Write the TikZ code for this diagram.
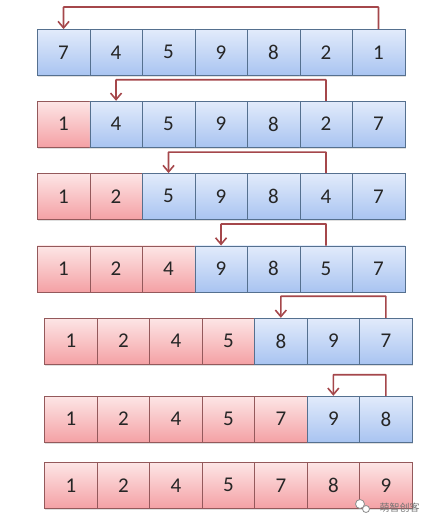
\documentclass[tikz,border=0pt]{standalone}
\usepackage{fontspec}
\setmainfont{Carlito}
\newfontfamily\cjkfont{Noto Sans CJK SC}
\usetikzlibrary{arrows.meta,shadows}

\definecolor{bluetop}{HTML}{E2EBFB}
\definecolor{bluebot}{HTML}{A9C4F1}
\definecolor{blueline}{HTML}{55708F}
\definecolor{redtop}{HTML}{FDE6E6}
\definecolor{redbot}{HTML}{F4A1A5}
\definecolor{redline}{HTML}{94595B}
\definecolor{swapred}{HTML}{A5474B}

\tikzset{
  cell/.style={draw, minimum width=52.5pt, minimum height=46pt, inner sep=0pt,
    text=black!85, font=\fontsize{21}{21}\selectfont,
    drop shadow={opacity=0.25, shadow xshift=0.8pt, shadow yshift=-1.6pt}},
  opencell/.style={cell, draw=blueline, top color=bluetop, bottom color=bluebot},
  donecell/.style={cell, draw=redline, top color=redtop, bottom color=redbot},
  swaparrow/.style={draw=swapred, line width=1.7pt, rounded corners=0.5pt,
    -{Straight Barb[length=6.5pt, width=11pt, line width=1.6pt]}}
}

% #1 row name, #2 left x, #3 top y, #4 sorted cells, #5 values
\newcommand\sortrow[5]{
  \foreach \v [count=\i] in {#5} {
    \ifnum\i>#4 \def\st{opencell}\else\def\st{donecell}\fi
    \node[\st] (#1c\i) at ({#2+(\i-0.5)*52.5}, {#3+23}) {\v};
  }
}

\begin{document}
\begin{tikzpicture}[x=1pt, y=-1pt]
  \useasboundingbox (0,0) rectangle (432,527);

  \sortrow{r1}{37.3}{29.3}{0}{7,4,5,9,8,2,1}
  \sortrow{r2}{37.3}{101}{1}{1,4,5,9,8,2,7}
  \sortrow{r3}{37.3}{173.3}{2}{1,2,5,9,8,4,7}
  \sortrow{r4}{37.3}{245.7}{3}{1,2,4,9,8,5,7}
  \sortrow{r5}{44.6}{318}{4}{1,2,4,5,8,9,7}
  \sortrow{r6}{44.6}{396}{5}{1,2,4,5,7,9,8}
  \sortrow{r7}{44.6}{462.3}{7}{1,2,4,5,7,8,9}

  % swaps
  \draw[swaparrow] (r1c7.north) -- ++(0,-22) -| (r1c1.north);
  \draw[swaparrow] (r2c6.north) -- ++(0,-21) -| (r2c2.north);
  \draw[swaparrow] (r3c6.north) -- ++(0,-21) -| (r3c3.north);
  \draw[swaparrow] (r4c6.north) -- ++(0,-21.5) -| (r4c4.north);
  \draw[swaparrow] (r5c7.north) -- ++(0,-21.5) -| (r5c5.north);
  \draw[swaparrow] (r6c7.north) -- ++(0,-21) -| (r6c6.north);

  % watermark
  \node[circle, draw=black!45, fill=white, line width=0.8pt, minimum size=9pt, inner sep=0pt] (bubble1) at (360,504) {};
  \node[circle, draw=black!45, fill=white, line width=0.8pt, minimum size=7pt, inner sep=0pt] (bubble2) at (366,509) {};
  \node[text=black!55, font=\cjkfont\fontsize{10}{10}\selectfont, anchor=west] (mark) at (376,508) {萌智创客};
\end{tikzpicture}
\end{document}
